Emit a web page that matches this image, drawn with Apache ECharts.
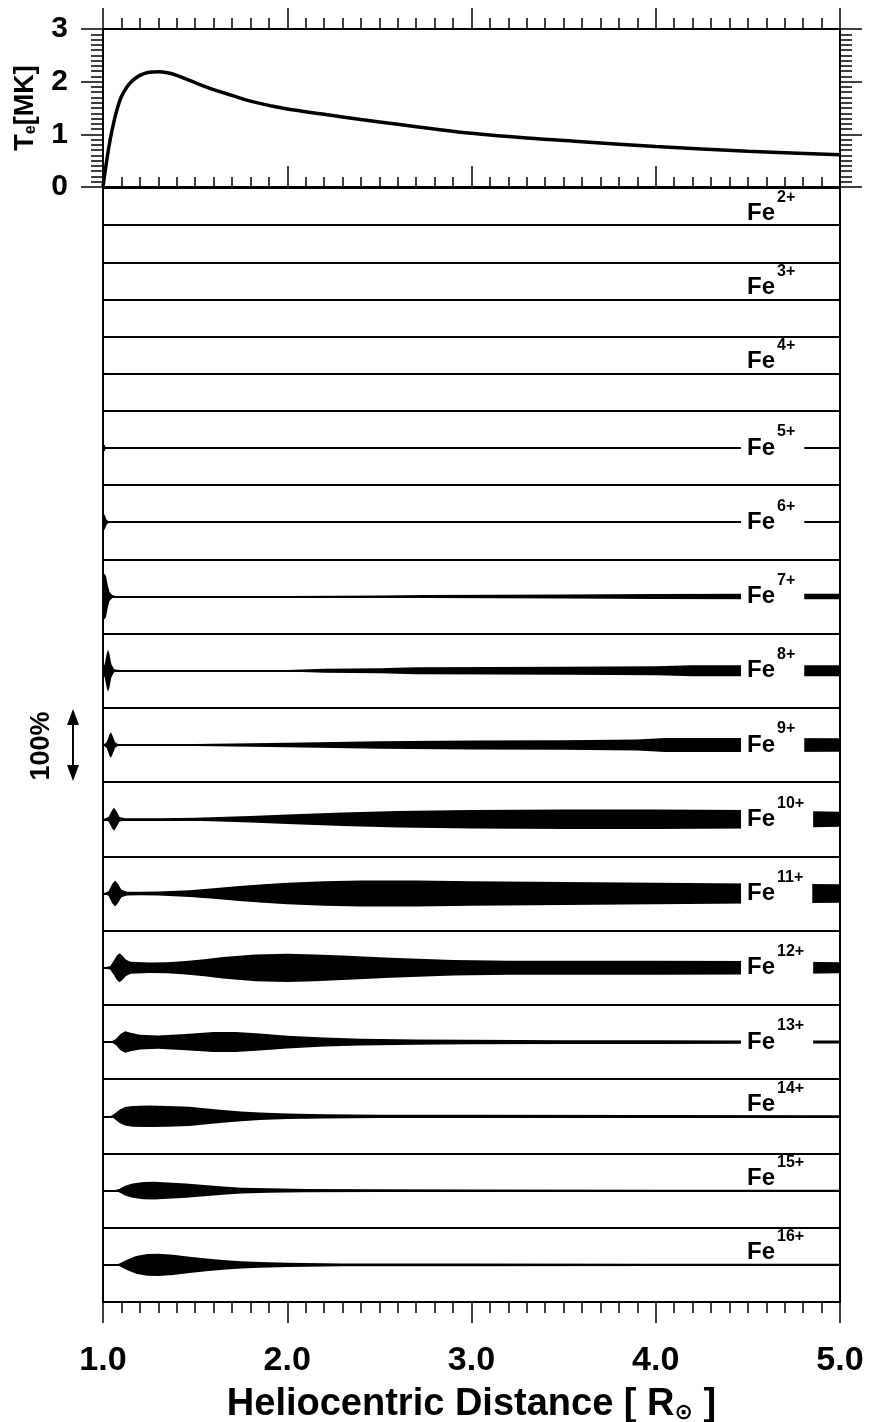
<!DOCTYPE html>
<html lang="en">
<head>
    <meta charset="UTF-8">
    <title>Fe charge states</title>
    <script src="https://cdn.jsdelivr.net/npm/echarts@6/dist/echarts.min.js"></script>
    <style type="text/css">
        body { margin: 0; background: #fff; }
        #main { width: 869px; height: 1422px; }
    </style>
</head>
<body>
<div id="main"></div>
<script>
    var FONT = '"Liberation Sans", Arial, sans-serif';

    // electron temperature [MK] vs heliocentric distance
    var teCurve = [
        [1.0, 0], [1.02, 0.5], [1.04, 0.92], [1.06, 1.25], [1.08, 1.52], [1.10, 1.72],
        [1.13, 1.9], [1.16, 2.02], [1.2, 2.12], [1.25, 2.18], [1.3, 2.19], [1.35, 2.17],
        [1.4, 2.12], [1.5, 1.98], [1.6, 1.85], [1.7, 1.74], [1.8, 1.63], [1.9, 1.55],
        [2.0, 1.48], [2.2, 1.38], [2.4, 1.28], [2.6, 1.19], [2.8, 1.1], [3.0, 1.02],
        [3.3, 0.93], [3.6, 0.86], [4.0, 0.77], [4.5, 0.68], [5.0, 0.61]
    ];

    // ion fractions (0..1) vs distance, one list per charge state
    var fe2 = [[1.0, 0], [5.0, 0]];
    var fe3 = [[1.0, 0], [5.0, 0]];
    var fe4 = [[1.0, 0.05], [1.006, 0.03], [1.012, 0], [5.0, 0]];
    var fe5 = [[1.0, 0.12], [1.006, 0.1], [1.012, 0.04], [1.02, 0], [5.0, 0]];
    var fe6 = [[1.0, 0.2], [1.006, 0.22], [1.012, 0.16], [1.02, 0.06], [1.035, 0.01], [5.0, 0]];
    var fe7 = [[1.0, 0.52], [1.008, 0.62], [1.016, 0.55], [1.025, 0.32], [1.035, 0.12], [1.05, 0.04],
        [1.07, 0.015], [1.5, 0.01], [2.0, 0.015], [2.5, 0.025], [2.75, 0.04], [3.5, 0.055],
        [4.0, 0.065], [4.5, 0.075], [5.0, 0.075]];
    var fe8 = [[1.0, 0.05], [1.01, 0.2], [1.02, 0.45], [1.027, 0.57], [1.035, 0.45], [1.045, 0.18],
        [1.06, 0.04], [1.1, 0.015], [1.5, 0.015], [2.0, 0.02], [2.2, 0.055], [2.5, 0.07],
        [2.7, 0.095], [3.5, 0.11], [4.0, 0.12], [4.2, 0.15], [5.0, 0.15]];
    var fe9 = [[1.0, 0], [1.02, 0.08], [1.035, 0.28], [1.043, 0.34], [1.052, 0.25], [1.065, 0.08],
        [1.08, 0.025], [1.2, 0.02], [1.5, 0.03], [2.0, 0.06], [2.5, 0.1], [3.0, 0.12],
        [3.5, 0.13], [3.9, 0.15], [4.05, 0.19], [4.5, 0.19], [5.0, 0.18]];
    var fe10 = [[1.0, 0], [1.03, 0.06], [1.05, 0.25], [1.06, 0.31], [1.072, 0.22], [1.09, 0.06],
        [1.12, 0.03], [1.3, 0.03], [1.5, 0.04], [1.8, 0.09], [2.0, 0.13], [2.3, 0.18],
        [2.6, 0.22], [3.0, 0.25], [3.5, 0.26], [4.0, 0.26], [4.5, 0.25], [5.0, 0.2]];
    var fe11 = [[1.0, 0], [1.03, 0.06], [1.05, 0.26], [1.065, 0.35], [1.08, 0.27], [1.1, 0.1],
        [1.13, 0.05], [1.2, 0.045], [1.3, 0.055], [1.47, 0.09], [1.6, 0.14], [1.74, 0.2],
        [1.87, 0.25], [2.0, 0.29], [2.2, 0.33], [2.4, 0.35], [2.7, 0.35], [3.0, 0.33],
        [3.5, 0.31], [4.0, 0.29], [4.5, 0.27], [5.0, 0.25]];
    var fe12 = [[1.0, 0], [1.04, 0.05], [1.06, 0.2], [1.075, 0.33], [1.09, 0.39], [1.105, 0.33],
        [1.125, 0.22], [1.15, 0.16], [1.25, 0.14], [1.35, 0.15], [1.45, 0.18], [1.55, 0.23],
        [1.65, 0.29], [1.83, 0.36], [2.0, 0.38], [2.15, 0.36], [2.3, 0.33], [2.56, 0.27],
        [2.9, 0.21], [3.2, 0.19], [4.0, 0.19], [4.5, 0.18], [5.0, 0.15]];
    var fe13 = [[1.0, 0], [1.04, 0], [1.07, 0.08], [1.095, 0.22], [1.12, 0.29], [1.15, 0.25],
        [1.2, 0.2], [1.3, 0.18], [1.45, 0.22], [1.6, 0.27], [1.72, 0.27], [1.85, 0.23],
        [2.0, 0.17], [2.2, 0.12], [2.4, 0.09], [2.7, 0.07], [3.0, 0.06], [3.5, 0.05],
        [4.0, 0.05], [4.5, 0.045], [5.0, 0.04]];
    var fe14 = [[1.0, 0], [1.04, 0], [1.06, 0.06], [1.09, 0.18], [1.12, 0.25], [1.16, 0.28],
        [1.25, 0.29], [1.35, 0.28], [1.47, 0.26], [1.55, 0.22], [1.65, 0.17], [1.75, 0.13],
        [1.85, 0.1], [2.0, 0.075], [2.2, 0.055], [2.5, 0.045], [3.0, 0.04], [4.0, 0.035], [5.0, 0.03]];
    var fe15 = [[1.0, 0], [1.06, 0], [1.09, 0.05], [1.12, 0.13], [1.16, 0.19], [1.22, 0.23],
        [1.28, 0.24], [1.35, 0.22], [1.45, 0.19], [1.55, 0.15], [1.65, 0.11], [1.75, 0.08],
        [1.9, 0.06], [2.1, 0.045], [2.5, 0.035], [3.0, 0.03], [4.0, 0.025], [5.0, 0.02]];
    var fe16 = [[1.0, 0], [1.06, 0], [1.09, 0.04], [1.13, 0.14], [1.18, 0.24], [1.24, 0.29],
        [1.3, 0.3], [1.38, 0.27], [1.47, 0.22], [1.56, 0.17], [1.65, 0.13], [1.75, 0.1],
        [1.85, 0.075], [2.0, 0.055], [2.3, 0.04], [3.0, 0.035], [4.0, 0.03], [5.0, 0.03]];

    var charges = ['2+', '3+', '4+', '5+', '6+', '7+', '8+', '9+', '10+', '11+', '12+', '13+', '14+', '15+', '16+'];
    var profiles = [fe2, fe3, fe4, fe5, fe6, fe7, fe8, fe9, fe10, fe11, fe12, fe13, fe14, fe15, fe16];
    // labels that sit above the line instead of breaking it
    var labelAbove = ['2+', '3+', '4+', '14+', '15+', '16+'];

    var xTicks = [1, 2, 3, 4, 5];
    var teTicks = [0, 1, 2, 3];

    function renderIon(params, api) {
        var k = api.value(2);
        var c = k + 0.5;
        var upper = [], lower = [];
        profiles[k].forEach(function (p) {
            upper.push(api.coord([p[0], c - p[1] / 2]));
            lower.unshift(api.coord([p[0], c + p[1] / 2]));
        });
        return {
            type: 'polygon',
            shape: { points: upper.concat(lower) },
            style: { fill: '#000', stroke: null }
        };
    }

    var tickStyle = { color: '#000', width: 1.5 };
    var lineStyle = { color: '#000', width: 2 };

    var option = {
        animation: false,
        backgroundColor: '#fff',
        textStyle: { fontFamily: FONT, color: '#000' },
        grid: [
            { left: 103, right: 29, top: 29, height: 158, show: true, borderColor: '#000', borderWidth: 2, outerBoundsMode: 'none', containLabel: false },
            { left: 103, right: 29, top: 188, height: 1114, show: true, borderColor: '#000', borderWidth: 2, outerBoundsMode: 'none', containLabel: false }
        ],
        xAxis: [
            {
                gridIndex: 0, type: 'value', min: xTicks[0], max: xTicks[xTicks.length - 1], interval: 1,
                axisLine: { onZero: false, lineStyle: lineStyle },
                axisTick: { inside: true, length: 21, lineStyle: tickStyle },
                minorTick: { show: true, splitNumber: 10, length: 10, lineStyle: tickStyle },
                axisLabel: { show: false }, splitLine: { show: false }
            },
            {
                gridIndex: 0, type: 'value', position: 'top', min: 1, max: 5, interval: 1,
                axisLine: { onZero: false, lineStyle: lineStyle },
                axisTick: { inside: false, length: 21, lineStyle: tickStyle },
                minorTick: { show: true, splitNumber: 10, length: 11, lineStyle: tickStyle },
                axisLabel: { show: false }, splitLine: { show: false }
            },
            {
                gridIndex: 1, type: 'value', position: 'bottom', min: 1, max: 5, interval: 1,
                axisLine: { onZero: false, lineStyle: lineStyle },
                axisTick: { inside: false, length: 21, lineStyle: tickStyle },
                minorTick: { show: true, splitNumber: 10, length: 11, lineStyle: tickStyle },
                splitLine: { show: false },
                axisLabel: {
                    margin: 42, fontSize: 34, fontWeight: 'bold', color: '#000', fontFamily: FONT,
                    formatter: function (v) { return v.toFixed(1); }
                },
                name: '{a|Heliocentric Distance [ R}{b|\u2299}{a| ]}',
                nameLocation: 'middle',
                nameGap: 84,
                nameTextStyle: {
                    rich: {
                        a: { fontSize: 38, fontWeight: 'bold', fontFamily: FONT, color: '#000' },
                        b: { fontSize: 22, fontWeight: 'bold', fontFamily: '"DejaVu Sans", sans-serif', color: '#000', verticalAlign: 'bottom' }
                    }
                }
            }
        ],
        yAxis: [
            {
                gridIndex: 0, type: 'value', min: teTicks[0], max: teTicks[teTicks.length - 1], interval: 1,
                axisLine: { onZero: false, lineStyle: lineStyle },
                axisTick: { inside: false, length: 22, lineStyle: tickStyle },
                minorTick: { show: true, splitNumber: 10, length: 12, lineStyle: tickStyle },
                splitLine: { show: false },
                axisLabel: { margin: 35, fontSize: 30, fontWeight: 'bold', color: '#000', fontFamily: FONT },
                name: '{a|T}{b|e}{a|[MK]}',
                nameLocation: 'middle',
                nameRotate: 90,
                nameGap: 64,
                nameTextStyle: {
                    rich: {
                        a: { fontSize: 27, fontWeight: 'bold', fontFamily: FONT, color: '#000' },
                        b: { fontSize: 16, fontWeight: 'bold', fontFamily: FONT, color: '#000', verticalAlign: 'bottom' }
                    }
                }
            },
            {
                gridIndex: 0, type: 'value', position: 'right', min: 0, max: 3, interval: 1,
                axisLine: { onZero: false, lineStyle: lineStyle },
                axisTick: { inside: false, length: 22, lineStyle: tickStyle },
                minorTick: { show: true, splitNumber: 10, length: 12, lineStyle: tickStyle },
                splitLine: { show: false },
                axisLabel: { show: false }
            },
            {
                gridIndex: 1, type: 'value', min: 0, max: charges.length, interval: 0.5, inverse: true,
                axisLine: { show: false, onZero: false }, axisTick: { show: false }, axisLabel: { show: false },
                splitLine: { show: true, lineStyle: lineStyle }
            }
        ],
        series: [
            {
                type: 'line',
                xAxisIndex: 0, yAxisIndex: 0,
                data: teCurve,
                smooth: 0.4,
                showSymbol: false,
                lineStyle: { color: '#000', width: 3.5 }
            },
            {
                type: 'custom',
                xAxisIndex: 2, yAxisIndex: 2,
                renderItem: renderIon,
                data: charges.map(function (c, k) { return [3, k + 0.5, k]; }),
                z: 2
            },
            {
                type: 'scatter',
                xAxisIndex: 2, yAxisIndex: 2,
                symbolSize: 1,
                itemStyle: { color: 'transparent', opacity: 1 },
                z: 5,
                label: {
                    show: true,
                    position: 'right',
                    distance: 0,
                    opacity: 1,
                    backgroundColor: '#fff',
                    padding: [0, 9, 0, 6],
                    formatter: function (p) { return '{f|Fe}{s|' + p.data.charge + '}'; },
                    rich: {
                        f: { fontSize: 24, fontWeight: 'bold', fontFamily: FONT, color: '#000' },
                        s: { fontSize: 16, fontWeight: 'bold', fontFamily: FONT, color: '#000', verticalAlign: 'top', padding: [0, 0, 32, 2] }
                    }
                },
                data: charges.map(function (c, k) {
                    var item = { value: [4.46, k + 0.5], charge: c };
                    if (labelAbove.indexOf(c) >= 0) {
                        item.label = { offset: [0, -12], backgroundColor: 'transparent' };
                    }
                    return item;
                })
            }
        ],
        graphic: [
            {
                type: 'text', x: 42, y: 746, rotation: Math.PI / 2,
                style: {
                    text: '100%', font: 'bold 27px ' + FONT, fill: '#000',
                    align: 'center', verticalAlign: 'middle', textAlign: 'center', textVerticalAlign: 'middle'
                }
            },
            { type: 'line', shape: { x1: 73, y1: 722, x2: 73, y2: 768 }, style: { stroke: '#000', lineWidth: 2 } },
            { type: 'polygon', shape: { points: [[73, 709], [67, 725], [79, 725]] }, style: { fill: '#000' } },
            { type: 'polygon', shape: { points: [[73, 781], [67, 765], [79, 765]] }, style: { fill: '#000' } }
        ]
    };

    var myChart = echarts.init(document.getElementById('main'));
    myChart.setOption(option);
</script>
</body>
</html>
